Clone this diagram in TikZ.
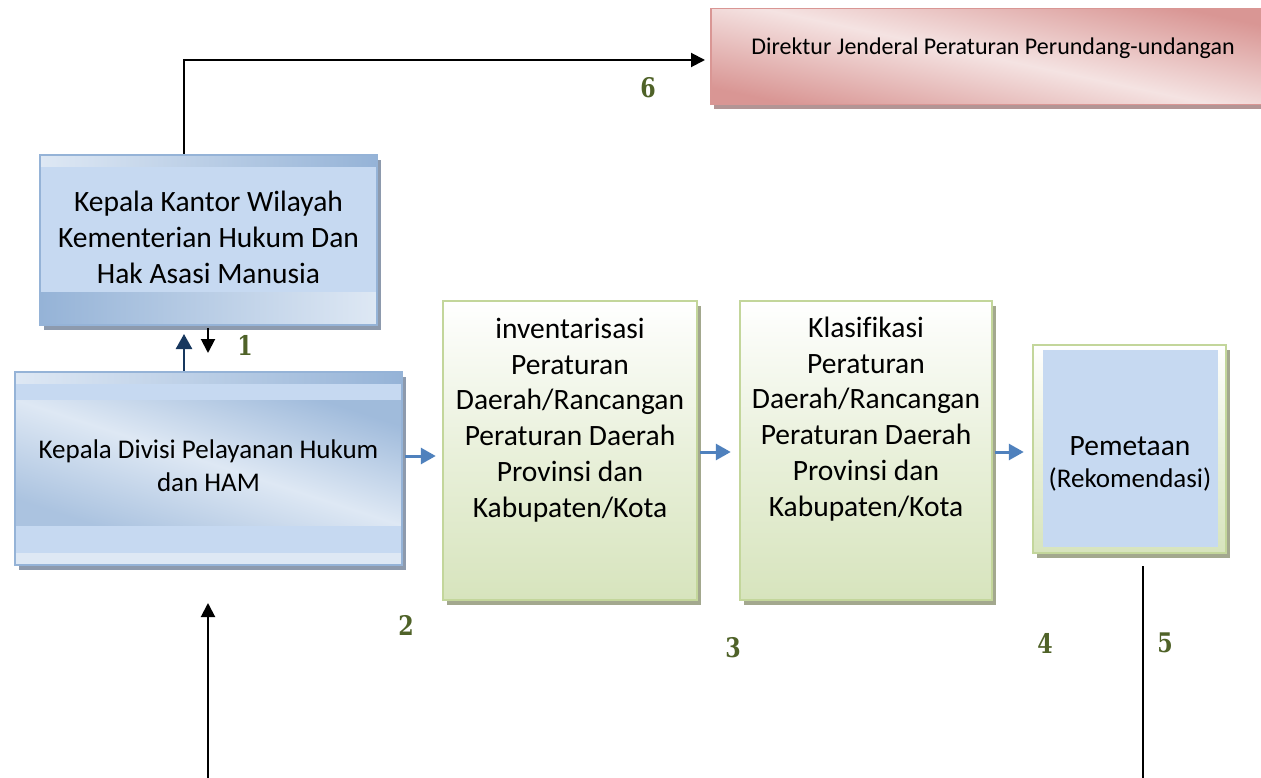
\documentclass[tikz,border=0pt]{standalone}
\usepackage{fontspec}
\setmainfont{Carlito}[Ligatures=NoCommon]
\newfontfamily\numfont{DejaVu Serif}
\usetikzlibrary{arrows.meta,shadows,calc}
\definecolor{bfill}{HTML}{C6D9F1}
\definecolor{blight}{HTML}{DEE8F4}
\definecolor{bdark}{HTML}{95B3D7}
\definecolor{bshadow}{HTML}{8D9AAD}
\definecolor{gfill}{HTML}{D7E4BD}
\definecolor{gdraw}{HTML}{C3D69B}
\definecolor{gshadow}{HTML}{A3A88E}
\definecolor{rlight}{HTML}{F2DCDB}
\definecolor{rdark}{HTML}{D99694}
\definecolor{rshadow}{HTML}{B39595}
\definecolor{numc}{HTML}{4F6228}
\definecolor{arrblue}{HTML}{4F81BD}
\definecolor{navy}{HTML}{17375E}
\tikzset{
  bluebox/.style={draw=bdark,line width=2pt,fill=bfill,inner sep=0pt,
    drop shadow={shadow xshift=4pt,shadow yshift=-5pt,fill=bshadow,opacity=1}},
  greenbox/.style={draw=gdraw,line width=2.5pt,inner sep=0pt,
    top color=white,bottom color=gfill,middle color=gfill!55!white,
    drop shadow={shadow xshift=4pt,shadow yshift=-5pt,fill=gshadow,opacity=1}},
  redbox/.style={draw=rdark,line width=1.5pt,inner sep=0pt,
    drop shadow={shadow xshift=3pt,shadow yshift=-4pt,fill=rshadow,opacity=1}},
  txt/.style={align=center,inner sep=0pt,text=black},
  num/.style={text=numc,inner sep=0pt,xscale=0.82,font=\numfont\bfseries\fontsize{27}{27}\selectfont},
  flowarr/.style={draw=arrblue,line width=3pt,-{Triangle[length=15pt,width=16pt]}},
  blackarr/.style={draw=black,line width=2pt,-{Triangle[length=14pt,width=14pt]}},
  navyarr/.style={draw=navy,line width=2.5pt,-{Triangle[length=15pt,width=16pt]}},
}
\begin{document}
\begin{tikzpicture}[x=1pt,y=-1pt]
\useasboundingbox[fill=white] (0,0) rectangle (1261,778);

% red box
\node[redbox,minimum width=556pt,minimum height=96pt,anchor=north west,
  path picture={\shade[top color=rdark,bottom color=rdark,middle color=rlight!80!white,shading angle=-12]
    (path picture bounding box.south west) rectangle (path picture bounding box.north east);}]
  (dir) at (710,8) {};
\node[txt,font=\fontsize{24}{28}\selectfont] (dirt) at (993,48) {Direktur Jenderal Peraturan Perundang-undangan};

% box A
\node[bluebox,minimum width=337pt,minimum height=170pt,
  path picture={
    \shade[left color=blight,right color=bdark] (path picture bounding box.north west) rectangle ([yshift=-12pt]path picture bounding box.north east);
    \shade[left color=bdark,right color=blight] ([yshift=33pt]path picture bounding box.south west) rectangle (path picture bounding box.south east);}]
  (kanwil) at (208.5,240) {};
\node[txt,font=\fontsize{29.5}{36}\selectfont] (kanwilt) at (208.5,237) {Kepala Kantor Wilayah\\Kementerian Hukum Dan\\Hak Asasi Manusia};

% box B
\node[bluebox,minimum width=387pt,minimum height=193pt,
  path picture={
    \shade[left color=blight,right color=bdark] (path picture bounding box.north west) rectangle ([yshift=-11pt]path picture bounding box.north east);
    \shade[top color=bdark!85!blight,bottom color=bdark!70!blight,middle color=blight,shading angle=-18]
      ([yshift=-28pt]path picture bounding box.north west) rectangle ([yshift=40pt]path picture bounding box.south east);
    \fill[blight] ([yshift=12pt]path picture bounding box.south west) rectangle (path picture bounding box.south east);}]
  (divisi) at (208.5,468.5) {};
\node[txt,font=\fontsize{27}{33}\selectfont] (divisit) at (208.5,466) {Kepala Divisi Pelayanan Hukum\\dan HAM};

% green boxes
\node[greenbox,minimum width=254pt,minimum height=299pt] (inv) at (570,450.5) {};
\node[txt,font=\fontsize{29.5}{35.8}\selectfont] (invt) at (570,420) {inventarisasi\\Peraturan\\Daerah/Rancangan\\Peraturan Daerah\\Provinsi dan\\Kabupaten/Kota};
\node[greenbox,minimum width=252pt,minimum height=299pt] (kla) at (866,450.5) {};
\node[txt,font=\fontsize{29.5}{35.8}\selectfont] (klat) at (866,419) {Klasifikasi\\Peraturan\\Daerah/Rancangan\\Peraturan Daerah\\Provinsi dan\\Kabupaten/Kota};

% box E
\node[greenbox,minimum width=193pt,minimum height=208pt] (map) at (1129.5,449) {};
\node[fill=bfill,minimum width=175pt,minimum height=197pt,inner sep=0pt] (mapin) at (1130.5,448.5) {};
\node[txt,font=\fontsize{27}{32}\selectfont] (mapt) at (1130,464) {{\fontsize{29.5}{32}\selectfont Pemetaan}\\(Rekomendasi)};

% coordinates
\coordinate (x184) at (184,0);
\coordinate (x208) at (208,0);
\coordinate (y60) at (0,60);
\coordinate (botstart) at (208,778);
\coordinate (botend) at (208,603);
\coordinate (fivetop) at (1143,566);
\coordinate (fivebot) at (1143,778);

% connectors
\draw[blackarr] (kanwil.north -| x184) |- ([xshift=-5pt]dir.west |- y60);
\draw[blackarr] ([yshift=-2pt]kanwil.south -| x208) -- ++(0,25);
\draw[navyarr] (divisi.north -| x184) -- ([yshift=-8pt]kanwil.south -| x184);
\draw[flowarr] ([xshift=2pt]divisi.east |- 0,456) -- ([xshift=-6pt]inv.west |- 0,456);
\draw[flowarr] ([xshift=2pt]inv.east |- 0,452) -- ([xshift=-8pt]kla.west |- 0,452);
\draw[flowarr] ([xshift=2pt]kla.east |- 0,452) -- ([xshift=-8pt]map.west |- 0,452);
\draw[blackarr] (botstart) -- (botend);
\draw[black,line width=1.5pt] (fivetop) -- (fivebot);

% numbers
\node[num] (n1) at (245,345) {1};
\node[num] (n2) at (406,625) {2};
\node[num] (n3) at (733,648) {3};
\node[num] (n4) at (1045,643) {4};
\node[num] (n5) at (1165,643) {5};
\node[num] (n6) at (648,88) {6};
\end{tikzpicture}
\end{document}
